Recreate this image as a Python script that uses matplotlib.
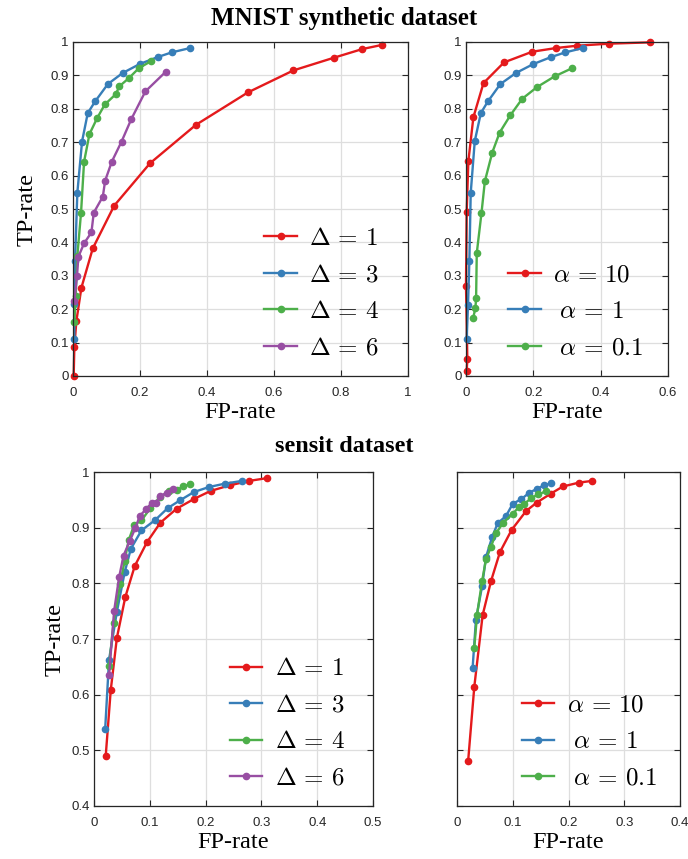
import matplotlib.pyplot as plt
import numpy as np

# Colours (ColorBrewer Set1, as in the paper)
RED = "#e41a1c"
BLUE = "#377eb8"
GREEN = "#4daf4a"
PURPLE = "#984ea3"

# MNIST synthetic, varying Delta
mnist_d1_fp = [0.002, 0.004, 0.010, 0.025, 0.059, 0.123, 0.230, 0.367, 0.522, 0.658, 0.779, 0.864, 0.921]
mnist_d1_tp = [0.000, 0.086, 0.164, 0.264, 0.382, 0.510, 0.637, 0.752, 0.849, 0.915, 0.953, 0.979, 0.991]
mnist_d3_fp = [0.004, 0.004, 0.006, 0.013, 0.027, 0.044, 0.066, 0.104, 0.148, 0.199, 0.253, 0.295, 0.350]
mnist_d3_tp = [0.111, 0.215, 0.343, 0.549, 0.702, 0.787, 0.822, 0.874, 0.907, 0.934, 0.955, 0.969, 0.982]
mnist_d4_fp = [0.004, 0.008, 0.013, 0.024, 0.033, 0.049, 0.072, 0.095, 0.128, 0.138, 0.167, 0.197, 0.232]
mnist_d4_tp = [0.161, 0.240, 0.360, 0.489, 0.641, 0.724, 0.772, 0.813, 0.844, 0.867, 0.892, 0.922, 0.942]
mnist_d6_fp = [0.004, 0.012, 0.016, 0.033, 0.055, 0.062, 0.089, 0.096, 0.116, 0.145, 0.174, 0.216, 0.277]
mnist_d6_tp = [0.225, 0.300, 0.357, 0.397, 0.430, 0.489, 0.537, 0.585, 0.642, 0.702, 0.769, 0.852, 0.911]

# MNIST synthetic, varying alpha
mnist_a10_fp = [0.002, 0.004, 0.000, 0.002, 0.007, 0.022, 0.052, 0.113, 0.197, 0.268, 0.331, 0.425, 0.548]
mnist_a10_tp = [0.015, 0.050, 0.270, 0.491, 0.643, 0.775, 0.877, 0.939, 0.971, 0.982, 0.989, 0.995, 0.999]
mnist_a1_fp = [0.002, 0.006, 0.010, 0.014, 0.026, 0.044, 0.065, 0.102, 0.148, 0.200, 0.253, 0.295, 0.348]
mnist_a1_tp = [0.110, 0.213, 0.344, 0.548, 0.703, 0.787, 0.822, 0.874, 0.907, 0.934, 0.955, 0.969, 0.982]
mnist_a01_fp = [0.021, 0.028, 0.030, 0.032, 0.046, 0.056, 0.078, 0.100, 0.132, 0.167, 0.211, 0.263, 0.314]
mnist_a01_tp = [0.173, 0.203, 0.235, 0.368, 0.488, 0.583, 0.669, 0.729, 0.781, 0.830, 0.865, 0.897, 0.921]

# sensit, varying Delta
sens_d1_fp = [0.021, 0.030, 0.041, 0.056, 0.073, 0.095, 0.119, 0.148, 0.180, 0.209, 0.243, 0.278, 0.310]
sens_d1_tp = [0.490, 0.608, 0.702, 0.775, 0.831, 0.874, 0.909, 0.934, 0.952, 0.966, 0.976, 0.984, 0.989]
sens_d3_fp = [0.020, 0.027, 0.041, 0.055, 0.066, 0.085, 0.110, 0.132, 0.154, 0.179, 0.206, 0.234, 0.265]
sens_d3_tp = [0.538, 0.663, 0.749, 0.820, 0.862, 0.895, 0.914, 0.935, 0.949, 0.964, 0.973, 0.979, 0.984]
sens_d4_fp = [0.027, 0.035, 0.047, 0.055, 0.062, 0.072, 0.085, 0.101, 0.118, 0.135, 0.149, 0.160, 0.172]
sens_d4_tp = [0.651, 0.729, 0.799, 0.841, 0.877, 0.905, 0.913, 0.935, 0.955, 0.965, 0.968, 0.974, 0.978]
sens_d6_fp = [0.027, 0.036, 0.045, 0.053, 0.064, 0.074, 0.082, 0.094, 0.104, 0.112, 0.119, 0.130, 0.141]
sens_d6_tp = [0.635, 0.750, 0.811, 0.850, 0.876, 0.899, 0.921, 0.934, 0.945, 0.945, 0.956, 0.963, 0.969]

# sensit, varying alpha
sens_a10_fp = [0.020, 0.031, 0.046, 0.061, 0.077, 0.098, 0.124, 0.143, 0.168, 0.190, 0.219, 0.242]
sens_a10_tp = [0.481, 0.614, 0.743, 0.804, 0.856, 0.896, 0.930, 0.945, 0.961, 0.974, 0.981, 0.984]
sens_a1_fp = [0.028, 0.034, 0.045, 0.052, 0.063, 0.073, 0.088, 0.100, 0.115, 0.130, 0.144, 0.156, 0.169]
sens_a1_tp = [0.648, 0.735, 0.795, 0.847, 0.883, 0.908, 0.921, 0.943, 0.951, 0.963, 0.970, 0.976, 0.980]
sens_a01_fp = [0.031, 0.036, 0.045, 0.052, 0.061, 0.070, 0.083, 0.100, 0.112, 0.121, 0.133, 0.146, 0.159]
sens_a01_tp = [0.684, 0.744, 0.804, 0.843, 0.866, 0.890, 0.909, 0.925, 0.938, 0.943, 0.953, 0.960, 0.965]

delta_labels = [r"$\Delta \,=\, 1$", r"$\Delta \,=\, 3$", r"$\Delta \,=\, 4$", r"$\Delta \,=\, 6$"]
alpha_labels = [r"$\alpha \,=\, 10$", r" $\alpha \,=\, 1$", r" $\alpha \,=\, 0.1$"]

plt.rcParams["mathtext.fontset"] = "cm"
plt.rcParams["font.family"] = "Liberation Sans"

SERIF = "Liberation Serif"


def style_axes(ax, xmax, ymin, xticks, yticks, ylabels=True):
    ax.set_xlim(0, xmax)
    ax.set_ylim(ymin, 1)
    ax.set_xticks(xticks)
    ax.set_yticks(yticks)
    ax.set_xticklabels([f"{t:g}" for t in xticks])
    if ylabels:
        ax.set_yticklabels([f"{t:g}" for t in yticks])
    else:
        ax.set_yticklabels([])
    ax.grid(True, color="#dedede", linewidth=0.9)
    ax.set_axisbelow(True)
    ax.tick_params(direction="in", length=4, width=0.8, top=True, right=True,
                   labelsize=9.5, colors="#262626")
    ax.tick_params(axis="x", pad=8)
    ax.tick_params(axis="y", pad=3)
    for sp in ax.spines.values():
        sp.set_linewidth(0.9)
        sp.set_color("#262626")


def draw(ax, xs, ys, colors, labels):
    for x, y, c, lab in zip(xs, ys, colors, labels):
        ax.plot(x, y, "-o", color=c, lw=1.7, ms=4.5, label=lab, clip_on=False)


fig = plt.figure(figsize=(6.88, 8.59), dpi=100)
W, H = 688, 859


def add_ax(x0, y0, x1, y1):
    return fig.add_axes([x0 / W, 1 - y1 / H, (x1 - x0) / W, (y1 - y0) / H])


ax1 = add_ax(73, 42, 408, 376)
ax2 = add_ax(466, 42, 668, 376)
ax3 = add_ax(94, 472, 373, 806)
ax4 = add_ax(457, 472, 680, 806)

draw(ax1, [mnist_d1_fp, mnist_d3_fp, mnist_d4_fp, mnist_d6_fp],
     [mnist_d1_tp, mnist_d3_tp, mnist_d4_tp, mnist_d6_tp],
     [RED, BLUE, GREEN, PURPLE], delta_labels)
draw(ax2, [mnist_a10_fp, mnist_a1_fp, mnist_a01_fp],
     [mnist_a10_tp, mnist_a1_tp, mnist_a01_tp],
     [RED, BLUE, GREEN], alpha_labels)
draw(ax3, [sens_d1_fp, sens_d3_fp, sens_d4_fp, sens_d6_fp],
     [sens_d1_tp, sens_d3_tp, sens_d4_tp, sens_d6_tp],
     [RED, BLUE, GREEN, PURPLE], delta_labels)
draw(ax4, [sens_a10_fp, sens_a1_fp, sens_a01_fp],
     [sens_a10_tp, sens_a1_tp, sens_a01_tp],
     [RED, BLUE, GREEN], alpha_labels)

style_axes(ax1, 1, 0, np.arange(0, 1.01, 0.2), np.arange(0, 1.01, 0.1))
style_axes(ax2, 0.6, 0, np.arange(0, 0.61, 0.2), np.arange(0, 1.01, 0.1))
style_axes(ax3, 0.5, 0.4, np.arange(0, 0.51, 0.1), np.arange(0.4, 1.01, 0.1))
style_axes(ax4, 0.4, 0.4, np.arange(0, 0.41, 0.1), np.arange(0.4, 1.01, 0.1), ylabels=False)

leg_kw = dict(frameon=False, fontsize=18, handlelength=1.3, handletextpad=0.5,
              labelspacing=0.5, borderpad=0, borderaxespad=0, loc="lower right")
ax1.legend(bbox_to_anchor=(0.915, 0.05), **leg_kw)
ax2.legend(bbox_to_anchor=(0.88, 0.05), **leg_kw)
ax3.legend(bbox_to_anchor=(0.90, 0.048), **leg_kw)
ax4.legend(bbox_to_anchor=(0.898, 0.048), **leg_kw)

lab_kw = dict(fontsize=17.5, family=SERIF)
ax1.set_xlabel("FP-rate", labelpad=2, **lab_kw)
ax1.set_ylabel("TP-rate", labelpad=9, **lab_kw)
ax2.set_xlabel("FP-rate", labelpad=2, **lab_kw)
ax3.set_xlabel("FP-rate", labelpad=2, **lab_kw)
ax3.set_ylabel("TP-rate", labelpad=4, **lab_kw)
ax4.set_xlabel("FP-rate", labelpad=2, **lab_kw)

fig.text(344 / W, 1 - 18 / H, "MNIST synthetic dataset", ha="center", va="center",
         fontsize=18, fontweight="bold", family=SERIF)
fig.text(344 / W, 1 - 447 / H, "sensit dataset", ha="center", va="center",
         fontsize=17.5, fontweight="bold", family=SERIF)

fig.savefig("out.png", dpi=100)
